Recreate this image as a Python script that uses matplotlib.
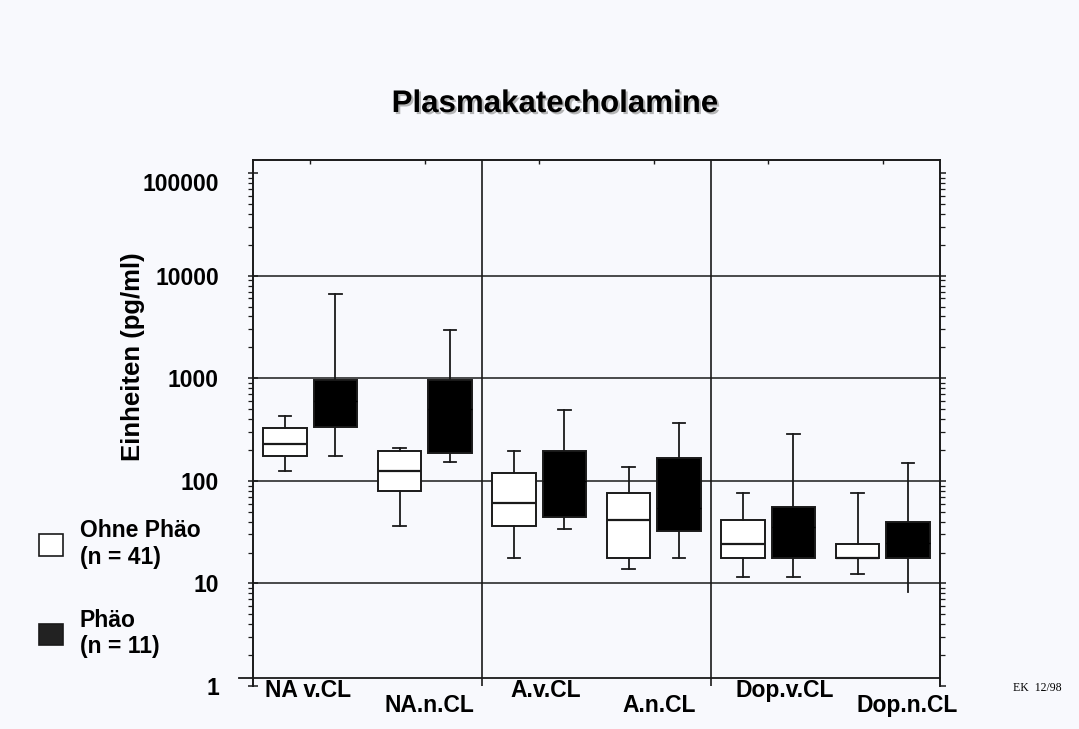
import numpy as np
import matplotlib
matplotlib.use("Agg")
import matplotlib.pyplot as plt
import matplotlib.transforms as mtransforms
import matplotlib.patheffects as pe
from matplotlib.patches import Patch
from matplotlib.ticker import LogLocator, NullFormatter, FixedLocator

plt.rcParams['font.family'] = ['Liberation Sans', 'DejaVu Sans']

# categories and box statistics (pg/ml)
categories = ["NA v.CL", "NA.n.CL", "A.v.CL", "A.n.CL", "Dop.v.CL", "Dop.n.CL"]

# Ohne Phäo (n = 41)
white_lo  = [126, 36.5, 17.6, 13.7, 11.5, 12.3]
white_q1  = [173, 80, 36.5, 17.6, 17.6, 17.6]
white_med = [229, 126, 60.8, 41.8, 24, 17.6]
white_q3  = [324, 194, 118, 76.2, 41.5, 24]
white_hi  = [427, 210, 194, 136, 76.2, 76.2]

# Phäo (n = 11)
black_lo  = [173, 153, 34, 17.6, 11.5, 8.2]
black_q1  = [333, 187, 44.4, 32.4, 17.6, 17.6]
black_med = [600, 500, 100, 54, 35.4, 25]
black_q3  = [970, 970, 194, 168, 56, 39.9]
black_hi  = [6670, 2955, 493, 362, 289, 149]

legend_labels = ["Ohne Phäo\n(n = 41)", "Phäo\n(n = 11)"]
ytick_vals = [1, 10, 100, 1000, 10000, 100000]
ytick_text = ["1", "10", "100", "1000", "10000", "100000"]
grid_vals = [10, 100, 1000, 10000]

bg = '#f8f9fd'
ink = '#1a1a1a'

fig = plt.figure(figsize=(10.79, 7.29), dpi=100, facecolor=bg)
ax = fig.add_axes([253/1079, 1 - 686/729, 687/1079, 526/729])
ax.set_facecolor(bg)

def stats(lo, q1, med, q3, hi):
    return [dict(whislo=a, q1=b, med=c, q3=d, whishi=e, fliers=[])
            for a, b, c, d, e in zip(lo, q1, med, q3, hi)]

pos = np.arange(len(categories))
off = 0.22
w = 0.38

bw = ax.bxp(stats(white_lo, white_q1, white_med, white_q3, white_hi),
            positions=pos - off, widths=w, capwidths=0.11, patch_artist=True,
            showfliers=False,
            boxprops=dict(facecolor='white', edgecolor=ink, linewidth=1.4),
            whiskerprops=dict(color=ink, linewidth=1.3),
            capprops=dict(color=ink, linewidth=1.3),
            medianprops=dict(color=ink, linewidth=1.6))
bb = ax.bxp(stats(black_lo, black_q1, black_med, black_q3, black_hi),
            positions=pos + off, widths=w, capwidths=0.11, patch_artist=True,
            showfliers=False,
            boxprops=dict(facecolor='black', edgecolor=ink, linewidth=1.4),
            whiskerprops=dict(color=ink, linewidth=1.3),
            capprops=dict(color=ink, linewidth=1.3),
            medianprops=dict(color='black', linewidth=1.0))
# last black lower whisker has no cap in the original
bb['caps'][-2].set_visible(False)

ax.set_yscale('log')
ax.set_ylim(1, 1.34e5)
ax.set_xlim(-0.5, 5.5)

# grid lines
for g in grid_vals:
    ax.axhline(g, color=ink, linewidth=1.1, zorder=0)
for xv in [1.5, 3.5]:
    ax.axvline(xv, color=ink, linewidth=1.2, zorder=0)
# baseline slightly above 1, sticking out left
ax.axhline(1.21, xmin=-0.02, xmax=1.0, color=ink, linewidth=1.3, clip_on=False)

for s in ['top', 'left', 'right']:
    ax.spines[s].set_color(ink)
    ax.spines[s].set_linewidth(1.4)
ax.spines['bottom'].set_visible(False)

# y ticks (left)
ax.yaxis.set_major_locator(FixedLocator(ytick_vals))
ax.set_yticklabels(ytick_text)
ax.yaxis.set_minor_locator(LogLocator(base=10, subs=np.arange(2, 10)))
ax.yaxis.set_minor_formatter(NullFormatter())
ax.tick_params(axis='y', which='major', direction='inout', length=7, width=1.1,
               pad=21, labelsize=16.5, colors=ink)
ax.tick_params(axis='y', which='minor', direction='out', length=3.5, width=0.9, colors=ink)
for lab in ax.get_yticklabels():
    lab.set_fontweight('bold')
    lab.set_color('black')
# the top label sits a bit lower in the original
top_lab = ax.get_yticklabels()[-1]
top_lab.set_transform(top_lab.get_transform() +
                      mtransforms.ScaledTranslation(0, -9/100, fig.dpi_scale_trans))

# right side ticks
ax2 = ax.twinx()
ax2.set_yscale('log')
ax2.set_ylim(ax.get_ylim())
ax2.yaxis.set_major_locator(FixedLocator(ytick_vals))
ax2.yaxis.set_minor_locator(LogLocator(base=10, subs=np.arange(2, 10)))
ax2.yaxis.set_major_formatter(NullFormatter())
ax2.yaxis.set_minor_formatter(NullFormatter())
ax2.tick_params(axis='y', which='major', direction='out', length=4, width=1.1, colors=ink)
ax2.tick_params(axis='y', which='minor', direction='out', length=3.5, width=0.9, colors=ink)
for s in ['top', 'left', 'right', 'bottom']:
    ax2.spines[s].set_visible(False)

# x ticks at category positions on top
ax.set_xticks(pos)
ax.tick_params(axis='x', top=True, bottom=False, labeltop=False, labelbottom=False,
               direction='in', length=3, width=1.0, colors=ink)

# staggered category labels
label_shift = [-0.02, 0.044, 0.06, 0.05, 0.14, 0.21]
label_row = [-0.0095, -0.038]
trans = mtransforms.blended_transform_factory(ax.transData, ax.transAxes)
for i, name in enumerate(categories):
    ax.text(pos[i] + label_shift[i], label_row[i % 2], name, transform=trans,
            ha='center', va='center', fontsize=16.5, fontweight='bold', clip_on=False)

# title with a soft shadow
fig.text(555/1079, 1 - 104/729, "Plasmakatecholamine", ha='center', va='center',
         fontsize=22.5, fontweight='bold',
         path_effects=[pe.withSimplePatchShadow(offset=(1.5, -1.5), shadow_rgbFace='#888888', alpha=0.6)])

fig.text(133/1079, 1 - 357/729, "Einheiten (pg/ml)", rotation=90, ha='center', va='center',
         fontsize=18.5, fontweight='bold')

handles = [Patch(facecolor='white', edgecolor=ink, linewidth=1.2),
           Patch(facecolor='#222222', edgecolor=ink, linewidth=1.2)]
fig.legend(handles, legend_labels, loc='upper left', bbox_to_anchor=(39/1079, 1 - 519/729),
           frameon=False, borderpad=0, borderaxespad=0, handlelength=1.05, handleheight=1.05,
           handletextpad=0.72, labelspacing=1.75, prop=dict(size=16.5, weight='bold'))

fig.text(1037/1079, 1 - 688/729, "EK  12/98", ha='center', va='center',
         fontsize=8.5, family=['Liberation Serif', 'DejaVu Serif'])

fig.savefig("out.png", dpi=100, facecolor=bg)
